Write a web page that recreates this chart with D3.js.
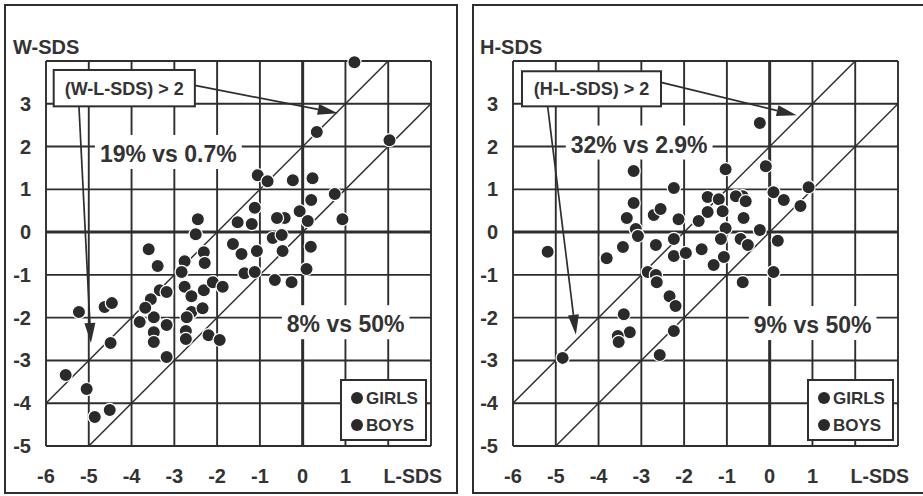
<!DOCTYPE html>
<html><head><meta charset="utf-8">
<script src="https://cdn.jsdelivr.net/npm/d3@7/dist/d3.min.js"></script>
<style>
body{margin:0;background:#fff}
svg{display:block}
text{font-family:"Liberation Sans",Arial,sans-serif;font-weight:bold;fill:#333}
</style>
</head><body>
<svg id="c" width="923" height="496"></svg>
<script>
// ---------- data ----------
const xTickLabels = [-6,-5,-4,-3,-2,-1,0,1];
const yTickLabels = [-5,-4,-3,-2,-1,0,1,2,3];
const xDomain = [-6,3];
const yDomain = [-5,4];
const legendLabels = ["GIRLS","BOYS"];
const diagonalOffsets = [2,0];   // y = x + offset

// Left panel: W-SDS vs L-SDS
const wGirlsX = [1.21,0.33,2.03,-1.05,-0.82,-0.23,0.23,0.75,0.2,-1.12,-0.07,-2.45,-1.52,-1.19,-0.42,-0.6,0.12,0.93,-2.5,-0.7,-0.49,0.19,-3.6,-1.63,-1.43,-1.07,-0.47,-2.31,-3.39,-2.76,0.09,-1.36,-1.12,-2.29];
const wGirlsY = [3.97,2.34,2.15,1.33,1.19,1.21,1.26,0.89,0.75,0.57,0.49,0.30,0.23,0.19,0.33,0.33,0.26,0.30,-0.05,-0.14,-0.07,-0.34,-0.40,-0.28,-0.51,-0.44,-0.44,-0.47,-0.79,-0.68,-0.86,-0.96,-0.93,-0.72];
const wBoysX = [-0.65,-0.26,-2.83,-2.76,-3.34,-3.18,-2.6,-2.31,-2.1,-1.87,-3.55,-2.6,-2.34,-2.71,-3.48,-3.81,-3.18,-3.48,-3.48,-2.73,-2.73,-2.2,-1.94,-3.18,-5.23,-4.63,-4.46,-4.49,-5.54,-5.05,-4.86,-4.51,-3.68];
const wBoysY = [-1.12,-1.17,-0.93,-1.28,-1.36,-1.40,-1.5,-1.36,-1.17,-1.28,-1.57,-1.87,-1.78,-1.99,-1.99,-2.1,-2.17,-2.34,-2.57,-2.31,-2.5,-2.41,-2.52,-2.92,-1.87,-1.75,-1.66,-2.59,-3.34,-3.67,-4.32,-4.16,-1.77];

// Right panel: H-SDS vs L-SDS
const hGirlsX = [-0.23,-1.03,-0.09,-3.18,-2.24,0.91,-3.18,-2.71,-2.55,-2.13,-3.34,-1.66,-1.45,-1.45,-1.19,-1.1,-0.63,-0.79,-0.56,-0.61,0.09,0.33,0.72,-1.03,-0.23,-3.13,-3.08,-3.43];
const hGirlsY = [2.55,1.47,1.54,1.43,1.03,1.05,0.68,0.40,0.54,0.30,0.33,0.26,0.82,0.47,0.77,0.49,0.84,0.84,0.72,0.33,0.93,0.75,0.61,0.09,0.05,0.07,-0.09,-0.35];
const hBoysX = [-2.66,-2.24,-1.59,-1.14,-0.68,-0.51,0.19,-5.19,-3.81,-2.24,-1.96,-1.07,-1.31,0.09,-0.63,-2.85,-2.66,-2.64,-2.34,-2.2,-3.41,-3.27,-3.55,-3.53,-2.24,-2.57,-4.84];
const hBoysY = [-0.30,-0.16,-0.40,-0.16,-0.16,-0.30,-0.2,-0.46,-0.61,-0.56,-0.49,-0.58,-0.77,-0.93,-1.17,-0.93,-1.0,-1.17,-1.5,-1.73,-1.92,-2.34,-2.43,-2.57,-2.31,-2.87,-2.94];

const panels = [
  {left:46, frame:[5,5,452,488], yLabel:"W-SDS", boxText:"(W-L-SDS) > 2",
   upText:"19% vs 0.7%", upPos:[-4.74,1.64], downText:"8% vs 50%", downPos:[-0.37,-2.34],
   box:[-5.82,3.79,-2.52,2.94], arrowR:[[-2.52,3.43],[0.82,2.78]], arrowD:[[-5.23,2.94],[-4.95,-2.59]],
   girlsX:wGirlsX, girlsY:wGirlsY, boysX:wBoysX, boysY:wBoysY},
  {left:513, frame:[473,5,470,488], yLabel:"H-SDS", boxText:"(H-L-SDS) > 2",
   upText:"32% vs 2.9%", upPos:[-4.65,1.86], downText:"9% vs 50%", downPos:[-0.37,-2.36],
   box:[-5.79,3.76,-2.54,2.94], arrowR:[[-2.54,3.5],[0.63,2.73]], arrowD:[[-5.19,2.94],[-4.53,-2.4]],
   girlsX:hGirlsX, girlsY:hGirlsY, boysX:hBoysX, boysY:hBoysY}
];

// ---------- drawing ----------
const svg = d3.select("#c");
const ink = "#2e2e2e";
const plotW = 385, plotTop = 61, plotBottom = 446;

function arrow(g, x, y, from, to){
  const x1 = x(from[0]), y1 = y(from[1]), x2 = x(to[0]), y2 = y(to[1]);
  const ang = Math.atan2(y2-y1, x2-x1), L = 20, W = 5.5;
  const bx = x2 - L*Math.cos(ang), by = y2 - L*Math.sin(ang);
  g.append("line").attr("x1",x1).attr("y1",y1).attr("x2",bx).attr("y2",by)
    .attr("stroke",ink).attr("stroke-width",1.7);
  const px = -Math.sin(ang)*W, py = Math.cos(ang)*W;
  g.append("path").attr("d",`M${x2},${y2}L${bx+px},${by+py}L${bx-px},${by-py}Z`).attr("fill",ink);
}

panels.forEach(p => {
  const g = svg.append("g");
  const x = d3.scaleLinear().domain(xDomain).range([p.left, p.left+plotW]);
  const y = d3.scaleLinear().domain(yDomain).range([plotBottom, plotTop]);

  g.append("rect").attr("x",p.frame[0]).attr("y",p.frame[1]).attr("width",p.frame[2]).attr("height",p.frame[3])
    .attr("fill","#fff").attr("stroke",ink).attr("stroke-width",2);

  // grid
  const xs = d3.range(xDomain[0], xDomain[1]+1), ys = d3.range(yDomain[0], yDomain[1]+1);
  g.selectAll(".vg").data(xs).enter().append("line")
    .attr("x1",d=>x(d)).attr("x2",d=>x(d)).attr("y1",y(yDomain[0])).attr("y2",y(yDomain[1]))
    .attr("stroke",ink).attr("stroke-width",d=>d===0?3:1.9);
  g.selectAll(".hg").data(ys).enter().append("line")
    .attr("y1",d=>y(d)).attr("y2",d=>y(d)).attr("x1",x(xDomain[0])).attr("x2",x(xDomain[1]))
    .attr("stroke",ink).attr("stroke-width",d=>d===0?3:1.9);

  // diagonals y = x + k, clipped to domain
  diagonalOffsets.forEach(k => {
    const x0 = Math.max(xDomain[0], yDomain[0]-k), x1 = Math.min(xDomain[1], yDomain[1]-k);
    g.append("line").attr("x1",x(x0)).attr("y1",y(x0+k)).attr("x2",x(x1)).attr("y2",y(x1+k))
      .attr("stroke",ink).attr("stroke-width",1.5);
  });

  // percentage texts with white backgrounds
  [[p.upText,p.upPos],[p.downText,p.downPos]].forEach(([t,pos]) => {
    const bg = g.append("rect").attr("fill","#fff");
    const tx = g.append("text").attr("x",x(pos[0])).attr("y",y(pos[1])).attr("font-size",23).text(t);
    const bb = tx.node().getBBox();
    bg.attr("x",bb.x-5).attr("y",bb.y-6).attr("width",bb.width+10).attr("height",bb.height+8);
  });

  // points
  const pts = p.girlsX.map((v,i)=>[v,p.girlsY[i]]).concat(p.boysX.map((v,i)=>[v,p.boysY[i]]));
  g.selectAll(".pt").data(pts).enter().append("circle")
    .attr("cx",d=>x(d[0])).attr("cy",d=>y(d[1])).attr("r",6.6)
    .attr("fill","#2a2a2a").attr("stroke","#fff").attr("stroke-width",1.2);

  // annotation box
  const [bx0,by0,bx1,by1] = p.box;
  g.append("rect").attr("x",x(bx0)).attr("y",y(by0)).attr("width",x(bx1)-x(bx0)).attr("height",y(by1)-y(by0))
    .attr("fill","#fff").attr("stroke",ink).attr("stroke-width",2);
  g.append("text").attr("x",(x(bx0)+x(bx1))/2).attr("y",(y(by0)+y(by1))/2+6.5)
    .attr("text-anchor","middle").attr("font-size",18).text(p.boxText);
  arrow(g,x,y,p.arrowR[0],p.arrowR[1]);
  arrow(g,x,y,p.arrowD[0],p.arrowD[1]);

  // axes labels
  g.selectAll(".xt").data(xTickLabels).enter().append("text")
    .attr("x",d=>x(d)).attr("y",483).attr("text-anchor","middle").attr("font-size",20).text(d=>d);
  g.selectAll(".yt").data(yTickLabels).enter().append("text")
    .attr("x",p.left-15).attr("y",d=>y(d)+7).attr("text-anchor","end").attr("font-size",20).text(d=>d);
  g.append("text").attr("x",p.left+plotW+11).attr("y",483).attr("text-anchor","end").attr("font-size",19.5).text("L-SDS");
  g.append("text").attr("x",p.left-33).attr("y",54).attr("font-size",20).text(p.yLabel);

  // legend
  const lx = p.left+plotW-90, ly = plotBottom-66;
  g.append("rect").attr("x",lx).attr("y",ly).attr("width",85).attr("height",60)
    .attr("fill","#fff").attr("stroke",ink).attr("stroke-width",2);
  legendLabels.forEach((t,i) => {
    g.append("circle").attr("cx",lx+16).attr("cy",ly+18+i*27).attr("r",6).attr("fill","#2a2a2a");
    g.append("text").attr("x",lx+25).attr("y",ly+24+i*27).attr("font-size",17).text(t);
  });
});
</script>
</body></html>
